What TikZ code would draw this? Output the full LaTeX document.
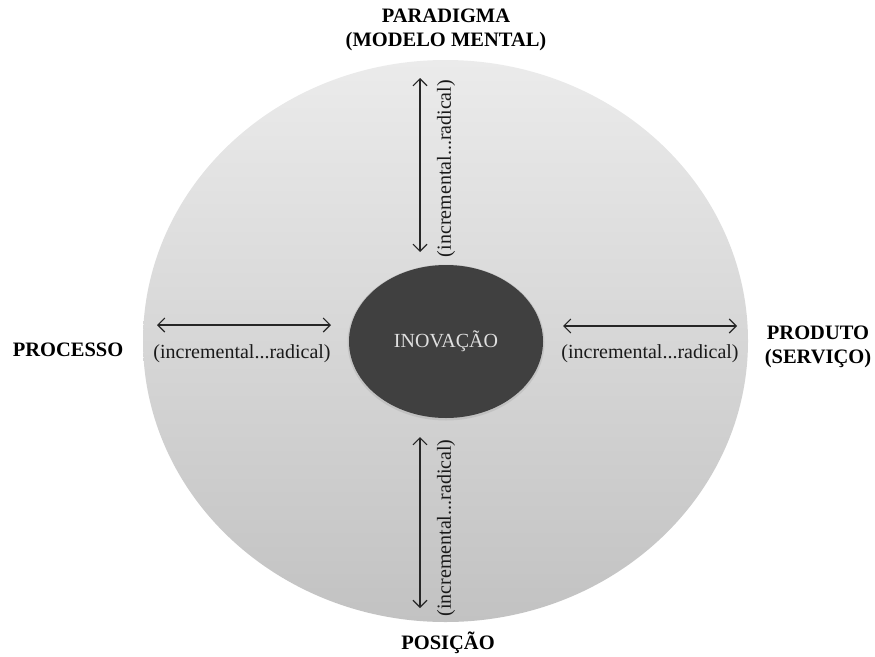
\documentclass[tikz,border=0pt]{standalone}
\usepackage{fontspec}
\setmainfont{Liberation Serif}
\usetikzlibrary{shapes.geometric,arrows.meta}
\definecolor{topgray}{HTML}{EBEBEB}
\definecolor{botgray}{HTML}{C2C2C2}
\definecolor{darkell}{HTML}{404040}
\definecolor{inktxt}{HTML}{1A1A1A}
\tikzset{
  biglabel/.style={font=\fontsize{20.5}{24.5}\selectfont\bfseries, text=black, align=center, inner sep=0pt},
  rangetxt/.style={font=\fontsize{20}{24}\selectfont, text=inktxt, inner sep=0pt},
  twoway/.style={{Straight Barb[length=7pt,width=14pt]}-{Straight Barb[length=7pt,width=14pt]}, line width=1.1pt, draw=black!85},
}
\begin{document}
\begin{tikzpicture}[x=1pt,y=-1pt]
\useasboundingbox (0,0) rectangle (875,656);
\node[ellipse, draw=none, minimum width=605pt, minimum height=562pt, inner sep=0pt, top color=topgray, bottom color=botgray] (outer) at (445.5,341) {};
\node[ellipse, draw=none, fill=black!35, opacity=0.35, minimum width=197pt, minimum height=156pt, inner sep=0pt] (shadow) at (446,342.5) {};
\node[ellipse, draw=none, fill=darkell, minimum width=194pt, minimum height=153pt, inner sep=0pt, font=\fontsize{20}{24}\selectfont, text=white!88!black] (inov) at (446,341.5) {INOVAÇÃO};

\node[biglabel] (parad) at (446,30) {PARADIGMA\\(MODELO MENTAL)};
\node[biglabel] (proc) at (68,350) {PROCESSO};
\node[biglabel] (prod) at (818,347) {PRODUTO\\(SERVIÇO)};
\node[biglabel] (pos) at (448,643) {POSIÇÃO};

\coordinate (tA) at (420,78);
\coordinate (tB) at (420,252);
\coordinate (bA) at (420,437);
\coordinate (bB) at (420,608);
\coordinate (lA) at (157,325);
\coordinate (lB) at (331,325);
\coordinate (rA) at (563,326);
\coordinate (rB) at (737,326);

\draw[twoway] (tA) -- (tB);
\draw[twoway] (bA) -- (bB);
\draw[twoway] (lA) -- (lB);
\draw[twoway] (rA) -- (rB);

\node[rangetxt, rotate=90] (ttxt) at (446,168.5) {(incremental...radical)};
\node[rangetxt, rotate=90] (btxt) at (446,528) {(incremental...radical)};
\node[rangetxt] (ltxt) at (242,354) {(incremental...radical)};
\node[rangetxt] (rtxt) at (650,354) {(incremental...radical)};
\end{tikzpicture}
\end{document}
